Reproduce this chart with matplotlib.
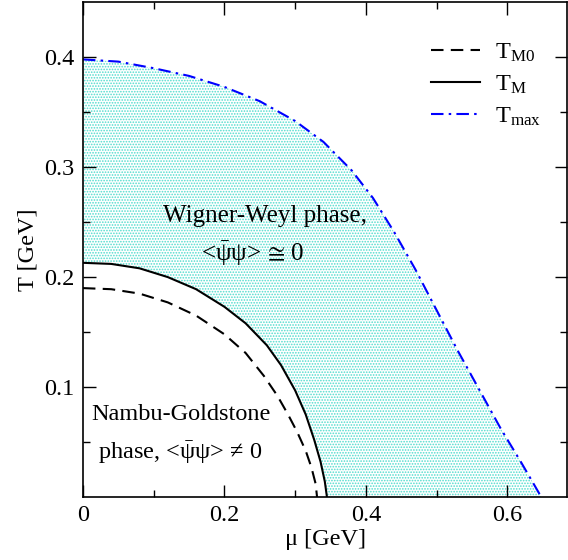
import numpy as np
import matplotlib
matplotlib.use('Agg')
import matplotlib.pyplot as plt

plt.rcParams['font.family'] = ['Liberation Serif', 'DejaVu Serif']
plt.rcParams['mathtext.fontset'] = 'custom'
plt.rcParams['mathtext.rm'] = 'Liberation Serif'
plt.rcParams['mathtext.it'] = 'Liberation Serif:italic'
plt.rcParams['hatch.linewidth'] = 0.8

# phase boundaries, mu and T in GeV
mu_m0 = [0.0, 0.04, 0.08, 0.12, 0.16, 0.20, 0.23, 0.256, 0.275, 0.29, 0.303, 0.315, 0.323, 0.329, 0.331]
t_m0 = [0.190, 0.189, 0.185, 0.177, 0.165, 0.148, 0.131, 0.110, 0.092, 0.075, 0.059, 0.042, 0.027, 0.012, 0.0]

mu_m = [0.0, 0.04, 0.08, 0.12, 0.16, 0.20, 0.23, 0.26, 0.28, 0.30, 0.315, 0.327, 0.336, 0.342, 0.345]
t_m = [0.213, 0.212, 0.208, 0.200, 0.189, 0.173, 0.158, 0.138, 0.120, 0.097, 0.075, 0.052, 0.032, 0.014, 0.0]

mu_max = [0.0, 0.05, 0.10, 0.15, 0.20, 0.25, 0.30, 0.34, 0.38, 0.41, 0.44, 0.47, 0.50, 0.53, 0.56, 0.59, 0.62, 0.648]
t_max = [0.398, 0.396, 0.390, 0.383, 0.373, 0.360, 0.342, 0.323, 0.297, 0.272, 0.241, 0.207, 0.170, 0.133, 0.098, 0.063, 0.031, 0.0]

fig = plt.figure(figsize=(5.68, 5.60), dpi=100)
ax = fig.add_axes([0.146, 0.1125, 0.853, 0.8835])

# shaded region between T_M and T_max
poly_x = list(mu_max) + list(mu_m[::-1])
poly_y = list(t_max) + list(t_m[::-1])
ax.fill(poly_x, poly_y, facecolor='white', edgecolor='#4fdccd', hatch='......', linewidth=0)

ax.plot(mu_m0, t_m0, color='black', lw=1.5, dashes=(6, 3.5), label=r'T$_{\mathrm{M0}}$')
ax.plot(mu_m, t_m, color='black', lw=1.5, label=r'T$_{\mathrm{M}}$')
ax.plot(mu_max, t_max, color='blue', lw=1.5, dashes=(6, 2.5, 1.2, 2.5), label=r'T$_{\mathrm{max}}$')

psi = r'<$\bar{\mathrm{\psi}}\mathrm{\psi}$>'
ax.text(0.257, 0.25, 'Wigner-Weyl phase,', fontsize=18, ha='center')
ax.text(0.240, 0.215, psi + r'$\,\cong\,$0', fontsize=18, ha='center')
ax.text(0.139, 0.07, 'Nambu-Goldstone', fontsize=17.5, ha='center')
ax.text(0.137, 0.035, 'phase, ' + psi + r'$\,\neq\,$0', fontsize=17.5, ha='center')

ax.set_xlim(0, 0.685)
ax.set_ylim(0, 0.45)
ax.set_xticks([0, 0.2, 0.4, 0.6])
ax.set_xticklabels(['0', '0.2', '0.4', '0.6'])
ax.set_xticks([0.1, 0.3, 0.5], minor=True)
ax.set_yticks([0.1, 0.2, 0.3, 0.4])
ax.set_yticklabels(['0.1', '0.2', '0.3', '0.4'])
ax.set_yticks([0.05, 0.15, 0.25, 0.35], minor=True)
ax.tick_params(which='both', direction='in', top=True, right=True, labelsize=17.5, width=1)
ax.tick_params(which='major', length=9, pad=6)
ax.tick_params(which='minor', length=5)
for s in ax.spines.values():
    s.set_linewidth(1.2)

ax.set_xlabel('μ [GeV]', fontsize=17.5, labelpad=2)
ax.set_ylabel('T [GeV]', fontsize=17.5, labelpad=4)

ax.legend(loc='upper right', frameon=False, fontsize=17.5, handlelength=2.0,
          handletextpad=0.6, labelspacing=0.4, bbox_to_anchor=(0.99, 0.965))

fig.savefig('out.png', dpi=100)
